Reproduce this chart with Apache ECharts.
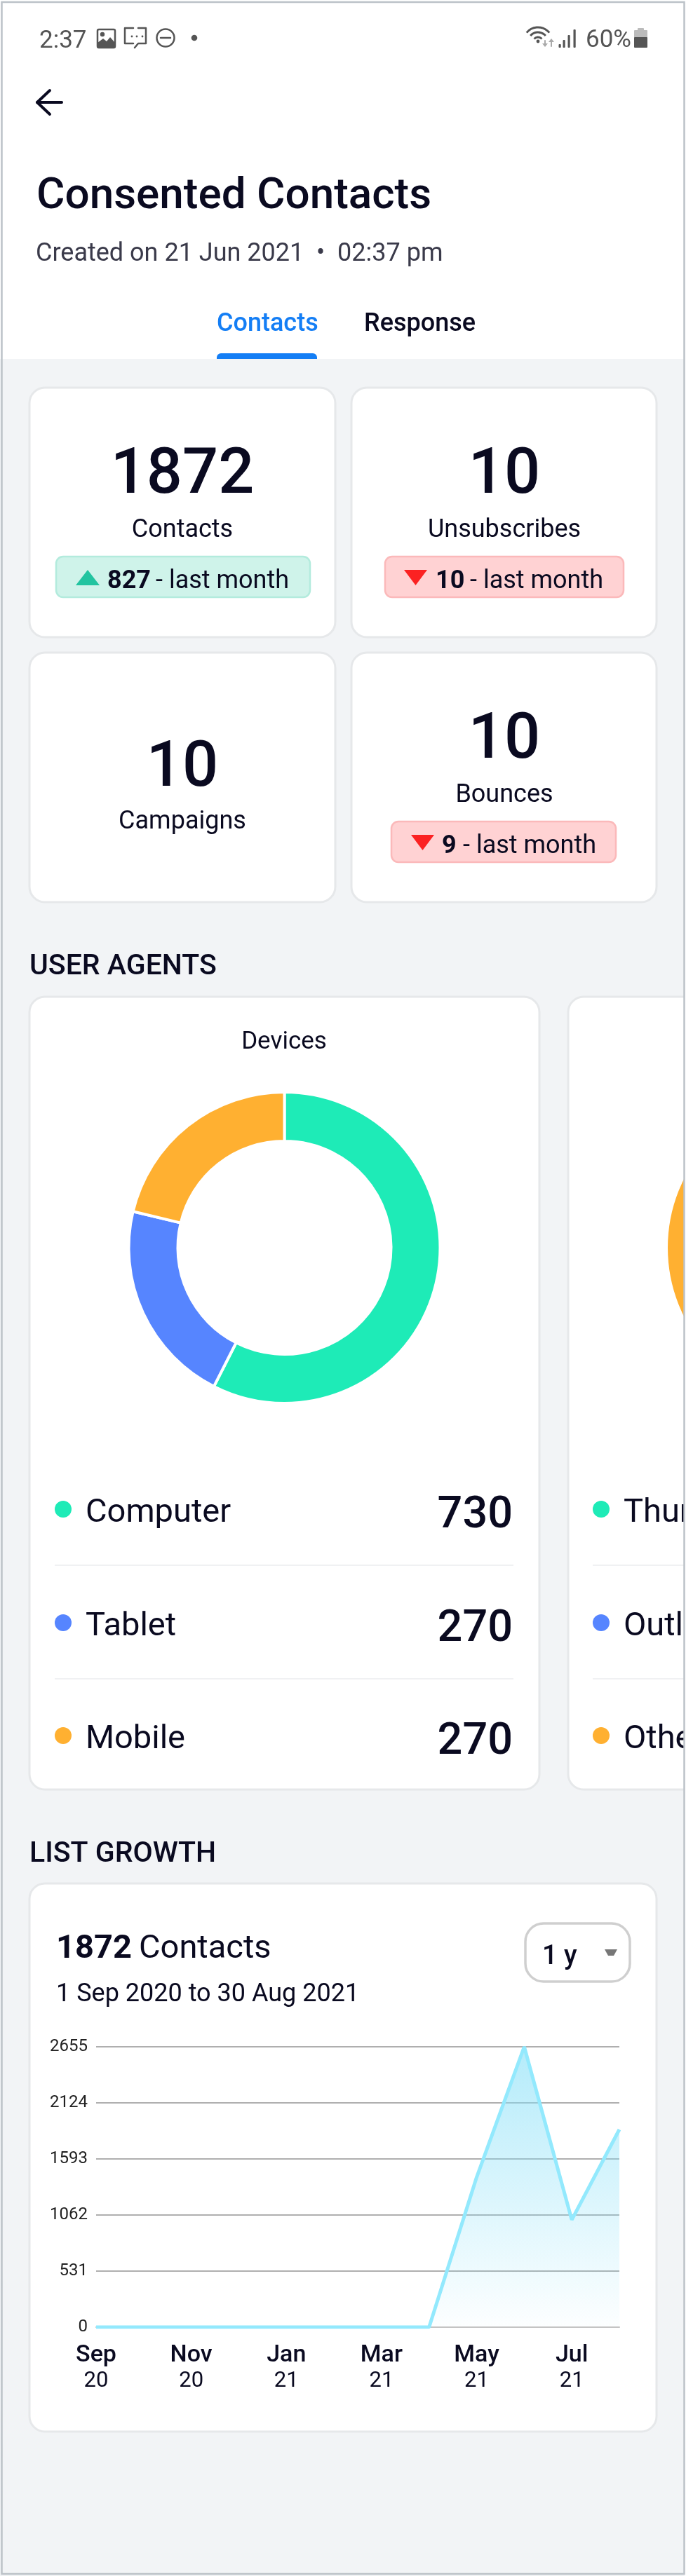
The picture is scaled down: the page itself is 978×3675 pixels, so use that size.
<!DOCTYPE html>
<html><head><meta charset="utf-8">
<style>html,body{margin:0;padding:0;background:#fff}#c{width:978px;height:3675px}</style>
<script src="https://cdn.jsdelivr.net/npm/echarts@6/dist/echarts.min.js"></script>
</head><body><div id="c"></div>
<script>
const statValues = ['1872','10','10','10'];
const statLabels = ['Contacts','Unsubscribes','Campaigns','Bounces'];
const deltaValues = ['827','10',null,'9'];
const deviceNames = ['Computer','Tablet','Mobile'];
const deviceValues = [730,270,270];
const clientNames = ['Thunderbird','Outlook','Other'];
const clientValues = [30,20,50];
const pieColors = ['#1eebb7','#5685ff','#ffb031'];
const months = ['Sep 20','Oct 20','Nov 20','Dec 20','Jan 21','Feb 21','Mar 21','Apr 21','May 21','Jun 21','Jul 21','Aug 21'];
const growth = [0,0,0,0,0,0,0,0,1420,2655,1016,1872];
const yTicks = {min:0,max:2655,interval:531};

const INK='#0a0a20', F='Roboto, sans-serif';
const g=[];
function T(text,x,base,size,o={}){
  g.push({type:'text',z:o.z||5,silent:true,style:{text,x,y:base-0.25*size,
    font:`${o.w||400} ${size}px ${o.f||F}`,fill:o.c||INK,textAlign:o.a||'left',textVerticalAlign:'middle'}});
}
function R(x,y,w,h,r,fill,stroke,lw,z){
  g.push({type:'rect',z:z||1,silent:true,shape:{x,y,width:w,height:h,r},style:{fill,stroke:stroke||null,lineWidth:lw||0}});
}
function P(points,fill,z){g.push({type:'polygon',z:z||5,silent:true,shape:{points},style:{fill}});}
function L(points,stroke,lw,z){g.push({type:'polyline',z:z||5,silent:true,shape:{points},style:{stroke,lineWidth:lw,fill:null,lineCap:'round',lineJoin:'round'}});}
function C(cx,cy,r,fill,z){g.push({type:'circle',z:z||5,silent:true,shape:{cx,cy,r},style:{fill}});}

// page
R(0,0,978,512,0,'#ffffff');
R(0,512,978,3163,0,'#f2f4f6');

// status bar
const SB='#555555';
T('2:37',56,68,35,{c:SB});
R(139,42,25,26,2,'#fff',SB,2.5);
P([[139,61],[147,55],[152,59],[157,53],[164,61],[164,68],[139,68]],SB);
C(146,49,3.2,SB);
L([[190,40],[178,40],[178,62],[190,62]],SB,2.5);
L([[197,40],[208,40],[208,62],[197,62],[192,68]],SB,2.5);
C(188,52,1.4,SB);C(195,52,1.4,SB);C(203,52,1.4,SB);
g.push({type:'circle',z:5,silent:true,shape:{cx:236,cy:54,r:12.5},style:{fill:null,stroke:SB,lineWidth:2.5}});
L([[229,54],[243,54]],SB,2.5);
C(277,54,4.3,SB);
[7,14,21].forEach(r=>g.push({type:'arc',z:5,silent:true,shape:{cx:767,cy:60,r,startAngle:-Math.PI*0.78,endAngle:-Math.PI*0.22,clockwise:true},style:{stroke:SB,lineWidth:3,fill:null}}));
C(767,59,2.4,SB);
P([[773,62],[781,62],[777,67]],'#aaa');L([[777,58],[777,63]],'#aaa',2);
P([[782,60],[790,60],[786,55]],'#aaa');L([[786,59],[786,66]],'#aaa',2);
[[798,63],[804,57],[811,50],[819,42]].forEach(b=>R(b[0]-1.5,b[1],3.2,68-b[1],1,SB,null,0,5));
T('60%',835,67,35,{c:SB});
R(909,40,9,5,1,'#bbb',null,0,5);R(904,43,19,11,1,'#bbb',null,0,5);R(904,53,19,15,1,SB,null,0,5);

// header
L([[88,146],[53,146]],INK,4);L([[71,129],[53,146],[71,163]],INK,4);
T('Consented Contacts',52,297,62,{w:500});
T('Created on 21 Jun 2021  •  02:37 pm',51,372,36,{c:'#3a3a4a'});
T('Contacts',309,472,36,{w:500,c:'#147ef5'});
T('Response',519,472,36,{w:500});
g.push({type:'rect',z:3,silent:true,shape:{x:309,y:504,width:143,height:8,r:[6,6,0,0]},style:{fill:'#147ef5'}});

// stat cards
const cardX=[42,501], cardY=[553,931];
function card(x,y,w,h){R(x,y,w,h,22,'#fff','#e6e8ea',3);}
const badges=[
 {x:80,w:362,tri:[108,142],t:153,d:222,up:true},
 {x:549,w:340,tri:[576,609],t:621,d:670,up:false},
 null,
 {x:558,w:320,tri:[586,619],t:630,d:660,up:false}];
statValues.forEach((v,i)=>{
  const cx=cardX[i%2], cy=cardY[i>>1], mid=cx+218;
  card(cx,cy,i%2?435:436,356);
  const b=badges[i];
  if(b){
    T(v,mid,cy+150,90,{a:'center',w:500});
    T(statLabels[i],mid,cy+213,36,{a:'center'});
    R(b.x,cy+241,b.w,58,10,b.up?'#cff3ea':'#ffd2d3',b.up?'#b3ebdd':'#fbb9ba',2.5,2);
    const [a,z]=b.tri, m=(a+z)/2, top=cy+260;
    P(b.up?[[a,top+22],[z,top+22],[m,top]]:[[a,top],[z,top],[m,top+22]],b.up?'#22c4a0':'#fb2222');
    T(deltaValues[i],b.t,cy+286,36,{w:700});
    T('- last month',b.d,cy+286,36);
  } else {
    T(v,mid,cy+190,90,{a:'center',w:500});
    T(statLabels[i],mid,cy+251,36,{a:'center'});
  }
});

// user agents
T('USER AGENTS',42,1390,41,{w:500});
card(42,1422,727,1131);
card(810,1422,400,1131);
T('Devices',405,1496,35,{a:'center'});
const rowY=[2153,2315,2476];
deviceNames.forEach((n,i)=>{
  C(90,rowY[i],12,pieColors[i]);
  T(n,122,rowY[i]+18,47);
  T(String(deviceValues[i]),731,rowY[i]+26,63,{a:'right',w:500});
  if(i<2){R(78,rowY[i]+79,654,2,0,'#f0f1f3',null,0,2);}
  C(857,rowY[i],12,pieColors[i]);
  T(clientNames[i],889,rowY[i]+18,47);
  if(i<2){R(845,rowY[i]+79,200,2,0,'#f0f1f3',null,0,2);}
});

// list growth
T('LIST GROWTH',42,2656,41,{w:500});
card(42,2687,894,782);
T(String(statValues[0]),80,2793,47,{w:700});
T('Contacts',198,2793,47);
T('1 Sep 2020 to 30 Aug 2021',80,2855,36);
R(749,2744,149,83,26,'#fff','#cfcfcf',3.5,2);
T('1 y',773,2802,38,{w:500});
P([[862,2781],[880,2781],[875,2790],[867,2790]],'#777');

// outer frame
R(0,0,978,3,0,'#fff',null,0,20);
R(976,0,2,3675,0,'#fff',null,0,20);
R(2.5,3,973,3669,0,null,'#bcc2c8',2.5,21);

const chart=echarts.init(document.getElementById('c'),null,{renderer:'canvas',width:978,height:3675});
function donut(center,names,values){
  return {type:'pie',center,radius:[152,222],startAngle:90,clockwise:true,silent:true,animation:false,z:4,
    label:{show:false},labelLine:{show:false},
    itemStyle:{borderColor:'#fff',borderWidth:4},
    data:names.map((name,i)=>({name,value:values[i],itemStyle:{color:pieColors[i]}}))};
}
chart.setOption({
  animation:false,
  grid:{left:137,right:95,top:2920,height:400},
  xAxis:{type:'category',data:months,boundaryGap:false,z:4,
    axisLine:{show:true,lineStyle:{color:'#c4c4c4',width:2}},axisTick:{show:false},
    axisLabel:{interval:i=>i%2===0,margin:22,hideOverlap:false,
      formatter:v=>{const p=v.split(' ');return `{m|${p[0]}}\n{y|${p[1]}}`;},
      rich:{m:{fontFamily:F,fontWeight:500,fontSize:34,color:INK,lineHeight:37},y:{fontFamily:F,fontWeight:400,fontSize:31,color:INK,lineHeight:37}}}},
  yAxis:{type:'value',min:yTicks.min,max:yTicks.max,interval:yTicks.interval,z:4,
    axisLine:{show:false},axisTick:{show:false},
    axisLabel:{margin:12,color:'#222',fontFamily:F,fontSize:24,formatter:v=>String(v)},
    splitLine:{lineStyle:{color:'#959595',width:1.5}}},
  series:[
    donut([405.5,1780],deviceNames,deviceValues),
    donut([1172,1780],clientNames,clientValues),
    {type:'line',data:growth,symbol:'none',silent:true,z:4,animation:false,
     lineStyle:{color:'#93e9fd',width:5},
     areaStyle:{opacity:1,color:new echarts.graphic.LinearGradient(0,0,0,1,[{offset:0,color:'rgba(130,222,247,0.6)'},{offset:1,color:'rgba(130,222,247,0.02)'}])}}
  ],
  graphic:{elements:g}
});
</script></body></html>
